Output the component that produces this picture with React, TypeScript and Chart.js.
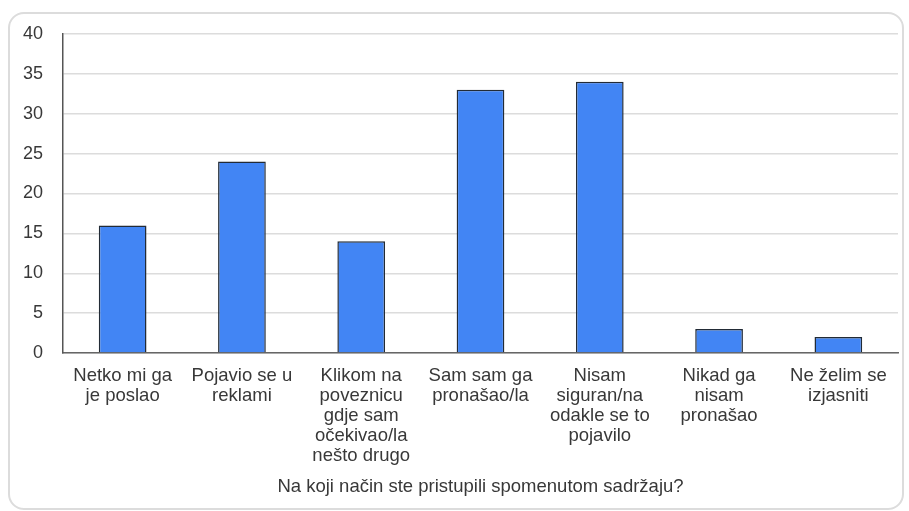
import React, { useEffect, useRef } from "react";
import { Chart, registerables } from "chart.js";

Chart.register(...registerables);

const categories: string[][] = [
  ["Netko mi ga", "je poslao"],
  ["Pojavio se u", "reklami"],
  ["Klikom na", "poveznicu", "gdje sam", "očekivao/la", "nešto drugo"],
  ["Sam sam ga", "pronašao/la"],
  ["Nisam", "siguran/na", "odakle se to", "pojavilo"],
  ["Nikad ga", "nisam", "pronašao"],
  ["Ne želim se", "izjasniti"],
];
const values: number[] = [16, 24, 14, 33, 34, 3, 2];
const axisTitle = "Na koji način ste pristupili spomenutom sadržaju?";
const yMin = 0;
const yMax = 40;
const yStep = 5;

const FONT = "'Liberation Sans', Arial, sans-serif";

export default function App() {
  const ref = useRef<HTMLCanvasElement | null>(null);

  useEffect(() => {
    if (!ref.current) return;
    const chart = new Chart(ref.current, {
      type: "bar",
      data: {
        labels: categories,
        datasets: [
          {
            data: values,
            backgroundColor: "#4285f4",
            borderColor: "#222b36",
            borderWidth: 1.5,
            barPercentage: 0.4,
            categoryPercentage: 1,
          },
        ],
      },
      options: {
        responsive: false,
        animation: false,
        devicePixelRatio: 1,
        layout: { padding: { left: 0, right: 11, top: 34, bottom: 0 } },
        plugins: {
          legend: { display: false },
          tooltip: { enabled: false },
        },
        scales: {
          x: {
            grid: { display: false, drawTicks: false },
            border: { display: true, color: "#666", width: 1.5 },
            ticks: {
              padding: 13,
              maxRotation: 0,
              autoSkip: false,
              color: "#383838",
              font: { family: FONT, size: 18.5, lineHeight: 20 / 18.5 },
            },
            title: {
              display: true,
              text: axisTitle,
              color: "#383838",
              font: { family: FONT, size: 18.5, lineHeight: 1.2 },
              padding: { top: 0, bottom: 13 },
            },
            afterFit: (scale: any) => {
              scale.height = 158;
            },
          },
          y: {
            min: yMin,
            max: yMax,
            grid: { color: "#dcdcdc", lineWidth: 1.5, drawTicks: false },
            border: { display: true, color: "#555", width: 1.5 },
            ticks: {
              stepSize: yStep,
              padding: 20,
              color: "#383838",
              font: { family: FONT, size: 18 },
            },
            afterFit: (scale: any) => {
              scale.width = 63;
            },
          },
        },
      },
    });
    return () => chart.destroy();
  }, []);

  return (
    <div style={{ position: "fixed", left: 0, top: 0, width: 909, height: 511, background: "#fff" }}>
      <div
        style={{
          position: "absolute",
          left: 8,
          top: 12,
          width: 896,
          height: 498,
          border: "2px solid #dcdcdc",
          borderRadius: 16,
          boxSizing: "border-box",
        }}
      />
      <canvas
        ref={ref}
        width={909}
        height={511}
        style={{ position: "absolute", left: 0, top: 0, width: 909, height: 511 }}
      />
    </div>
  );
}
